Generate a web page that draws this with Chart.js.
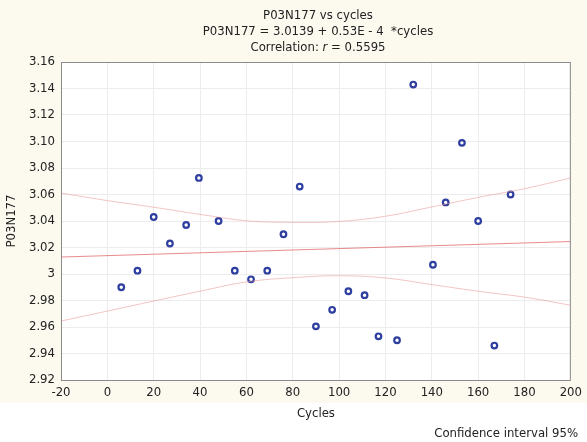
<!DOCTYPE html>
<html>
<head>
<meta charset="utf-8">
<script src="https://cdn.jsdelivr.net/npm/chart.js@4.4.0/dist/chart.umd.min.js"></script>
<style>
  html, body { margin: 0; padding: 0; background: #ffffff; }
  canvas { display: block; }
</style>
</head>
<body>
<canvas id="scatterChart" width="587" height="442"></canvas>
<script>
// measured points (cycles vs P03N177)
const cycles = [6, 13, 20, 27, 34, 39.5, 48, 55, 62, 69, 76, 83, 90, 97, 104, 111, 117, 125, 132, 140.5, 146, 153, 160, 167, 174];
const p03n177 = [2.990, 3.0025, 3.043, 3.023, 3.037, 3.0725, 3.040, 3.0025, 2.996, 3.0025, 3.030, 3.066, 2.9605, 2.973, 2.987, 2.984, 2.953, 2.950, 3.143, 3.007, 3.054, 3.099, 3.040, 2.946, 3.060];

// regression line ends
const fitX = [-20, 200];
const fitY = [3.0128, 3.0245];

// 95% confidence band, read at the x ticks
const bandX = [-20, 0, 20, 40, 60, 80, 100, 120, 140, 160, 180, 200];
const bandUpper = [3.0611, 3.0554, 3.0504, 3.0450, 3.0402, 3.0390, 3.0397, 3.0436, 3.0506, 3.0578, 3.0644, 3.0725];
const bandLower = [2.9645, 2.9720, 2.9796, 2.9870, 2.9940, 2.9972, 2.9987, 2.9970, 2.9920, 2.9870, 2.9825, 2.9764];

const xTicks = [-20, 0, 20, 40, 60, 80, 100, 120, 140, 160, 180, 200];
const yTickLabels = ['2.92', '2.94', '2.96', '2.98', '3', '3.02', '3.04', '3.06', '3.08', '3.10', '3.12', '3.14', '3.16'];

const titleLines = ['P03N177 vs cycles', 'P03N177 = 3.0139 + 0.53E - 4  *cycles'];
const corrLabel = ['Correlation: ', 'r', ' = 0.5595'];

const FAMILY = '"Liberation Sans Narrow", "DejaVu Sans", sans-serif';
const STRETCH = 'condensed';
const TEXT = '#222222';
const fnt = (size) => ({ family: FAMILY, size: size, weight: STRETCH });

const toPts = (xs, ys) => xs.map((x, i) => ({ x: x, y: ys[i] }));

const frame = {
  id: 'frame',
  beforeDraw(chart) {
    const { ctx, chartArea: a } = chart;
    ctx.save();
    ctx.fillStyle = '#fcf9ef';
    ctx.fillRect(0, 0, chart.width, 403);
    ctx.fillStyle = '#ffffff';
    ctx.fillRect(0, 403, chart.width, chart.height - 403);
    ctx.fillRect(a.left, a.top, a.right - a.left, a.bottom - a.top);
    ctx.restore();
  },
  afterDraw(chart) {
    const { ctx, chartArea: a } = chart;
    ctx.save();
    ctx.strokeStyle = '#8a8a8a';
    ctx.lineWidth = 1;
    ctx.strokeRect(a.left + 0.5, a.top + 0.5, a.right - a.left - 1, a.bottom - a.top);
    // titles
    ctx.fillStyle = TEXT;
    ctx.textBaseline = 'middle';
    ctx.textAlign = 'center';
    const base = STRETCH + ' 13px ' + FAMILY;
    const ital = 'italic ' + STRETCH + ' 13px ' + FAMILY;
    ctx.font = base;
    const cx = 318;
    ctx.fillText(titleLines[0], cx, 16);
    ctx.fillText(titleLines[1], cx, 32);
    // correlation line with italic r
    ctx.textAlign = 'left';
    const w0 = ctx.measureText(corrLabel[0]).width;
    const w2 = ctx.measureText(corrLabel[2]).width;
    ctx.font = ital;
    const w1 = ctx.measureText(corrLabel[1]).width;
    let x = cx - (w0 + w1 + w2) / 2;
    ctx.font = base;
    ctx.fillText(corrLabel[0], x, 48);
    x += w0;
    ctx.font = ital;
    ctx.fillText(corrLabel[1], x, 48);
    x += w1;
    ctx.font = base;
    ctx.fillText(corrLabel[2], x, 48);
    // footnote
    ctx.textAlign = 'right';
    ctx.fillText('Confidence interval 95%', 578, 434);
    ctx.restore();
  }
};

new Chart(document.getElementById('scatterChart'), {
  type: 'scatter',
  data: {
    datasets: [
      {
        label: 'upper',
        type: 'line',
        data: toPts(bandX, bandUpper),
        borderColor: 'rgba(232,150,150,0.55)',
        borderWidth: 1,
        pointRadius: 0,
        tension: 0.4,
        fill: false
      },
      {
        label: 'lower',
        type: 'line',
        data: toPts(bandX, bandLower),
        borderColor: 'rgba(232,150,150,0.55)',
        borderWidth: 1,
        pointRadius: 0,
        tension: 0.4,
        fill: false
      },
      {
        label: 'fit',
        type: 'line',
        data: toPts(fitX, fitY),
        borderColor: 'rgba(225,110,110,0.8)',
        borderWidth: 1,
        pointRadius: 0,
        fill: false
      },
      {
        label: 'P03N177',
        data: toPts(cycles, p03n177),
        pointStyle: 'circle',
        pointRadius: 2.8,
        borderWidth: 2.2,
        borderColor: '#2f3fa0',
        backgroundColor: '#ffffff'
      }
    ]
  },
  options: {
    responsive: false,
    animation: false,
    layout: { padding: { top: 62, right: 11, bottom: 0, left: 0 } },
    plugins: {
      legend: { display: false },
      tooltip: { enabled: false },
      title: { display: false }
    },
    scales: {
      x: {
        type: 'linear',
        min: -20,
        max: 200,
        afterFit(scale) { scale.height = 62; },
        afterBuildTicks(scale) { scale.ticks = xTicks.map(v => ({ value: v })); },
        grid: { color: '#ececec', drawTicks: false },
        border: { display: false },
        ticks: { color: TEXT, padding: 5, maxRotation: 0, font: fnt(13) },
        title: { display: true, text: 'Cycles', color: TEXT, padding: { top: 0, bottom: 21 }, font: fnt(13) }
      },
      y: {
        min: 2.92,
        max: 3.16,
        afterFit(scale) { scale.width = 61; },
        afterBuildTicks(scale) { scale.ticks = yTickLabels.map(t => ({ value: parseFloat(t) })); },
        grid: { color: '#ececec', drawTicks: false },
        border: { display: false },
        ticks: {
          color: TEXT,
          padding: 6,
          font: fnt(13),
          callback: (v, i) => yTickLabels[i]
        },
        title: { display: true, text: 'P03N177', color: TEXT, padding: { top: 4, bottom: 0 }, font: fnt(13) }
      }
    }
  },
  plugins: [frame]
});
</script>
</body>
</html>
